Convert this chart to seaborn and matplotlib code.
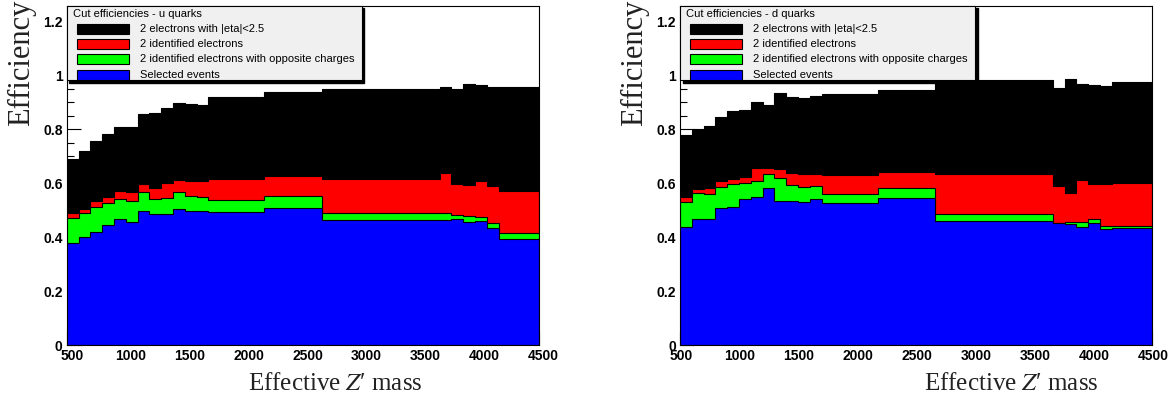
import numpy as np
import seaborn as sns
import matplotlib.pyplot as plt
import matplotlib.transforms as mtransforms
from matplotlib.patches import Rectangle

# bin edges of the Z' mass histograms (GeV)
edges = [500, 600, 700, 800, 900, 1000, 1100, 1200, 1300, 1400, 1500, 1600,
         1700, 2175, 2665, 3660, 3760, 3860, 3960, 4060, 4160, 4500]

series_names = ['2 electrons with |eta|<2.5', '2 identified electrons',
                '2 identified electrons with opposite charges', 'Selected events']
series_colors = ['#000000', '#ff0000', '#00ff00', '#0000ff']

# u quarks
u_eta = [0.689, 0.721, 0.758, 0.783, 0.807, 0.810, 0.855, 0.859, 0.880, 0.896, 0.894,
         0.890, 0.918, 0.939, 0.949, 0.955, 0.948, 0.967, 0.963, 0.958, 0.958]
u_id = [0.489, 0.505, 0.534, 0.550, 0.571, 0.567, 0.597, 0.581, 0.602, 0.612, 0.607,
        0.607, 0.615, 0.628, 0.616, 0.639, 0.596, 0.594, 0.610, 0.590, 0.571]
u_charge = [0.473, 0.489, 0.513, 0.526, 0.543, 0.533, 0.569, 0.541, 0.547, 0.567, 0.554,
            0.550, 0.538, 0.553, 0.491, 0.491, 0.484, 0.479, 0.476, 0.452, 0.415]
u_sel = [0.380, 0.400, 0.421, 0.446, 0.468, 0.456, 0.499, 0.486, 0.485, 0.505, 0.499,
         0.497, 0.493, 0.507, 0.464, 0.464, 0.469, 0.458, 0.460, 0.436, 0.394]

# d quarks
d_eta = [0.779, 0.800, 0.813, 0.844, 0.869, 0.871, 0.901, 0.889, 0.936, 0.918, 0.916,
         0.924, 0.931, 0.944, 0.983, 0.952, 0.986, 0.968, 0.964, 0.960, 0.976]
d_id = [0.548, 0.578, 0.581, 0.608, 0.617, 0.624, 0.656, 0.656, 0.653, 0.637, 0.633,
        0.633, 0.631, 0.641, 0.634, 0.590, 0.565, 0.612, 0.597, 0.596, 0.600]
d_charge = [0.532, 0.563, 0.559, 0.587, 0.596, 0.600, 0.610, 0.636, 0.621, 0.594, 0.585,
            0.591, 0.559, 0.581, 0.485, 0.454, 0.458, 0.458, 0.469, 0.443, 0.443]
d_sel = [0.439, 0.467, 0.468, 0.507, 0.511, 0.541, 0.550, 0.581, 0.536, 0.534, 0.532,
         0.541, 0.526, 0.544, 0.462, 0.454, 0.449, 0.439, 0.452, 0.431, 0.433]

panels = [('Cut efficiencies - u quarks', [u_eta, u_id, u_charge, u_sel]),
          ('Cut efficiencies - d quarks', [d_eta, d_id, d_charge, d_sel])]

W, H = 1171, 397
plt.rcParams['font.family'] = ['Liberation Sans', 'DejaVu Sans']
plt.rcParams['mathtext.fontset'] = 'stix'

fig = plt.figure(figsize=(W / 100, H / 100), dpi=100)
centers = [(a + b) / 2 for a, b in zip(edges[:-1], edges[1:])]


def fx(px):
    return px / W


def fy(py):
    return 1 - py / H


ax_left_px = [66.7, 680]
ax_width_px = 472
ax_top_px, ax_bot_px = 6, 345.3
xlabel_right_px = [422, 1098]
label_shift_px = [5, 1]

for i, (title, vals) in enumerate(panels):
    x0 = ax_left_px[i]
    ax = fig.add_axes([fx(x0), fy(ax_bot_px), ax_width_px / W, (ax_bot_px - ax_top_px) / H])
    for name, v, c in zip(series_names, vals, series_colors):
        sns.histplot(x=centers, weights=v, bins=edges, element='step', fill=True,
                     color=c, alpha=1, edgecolor='black', linewidth=0.8, ax=ax)
    ax.set_xlim(500, 4500)
    ax.set_ylim(0, 1.2565)
    ax.set_xlabel('')
    ax.set_ylabel('')
    ax.set_xticks(np.arange(500, 4501, 500))
    ax.set_yticks([0, 0.2, 0.4, 0.6, 0.8, 1, 1.2])
    ax.set_yticklabels(['0', '0.2', '0.4', '0.6', '0.8', '1', '1.2'])
    ax.set_yticks(np.arange(0, 1.25, 0.05), minor=True)
    ax.set_axisbelow(True)
    ax.tick_params(direction='in', which='major', length=10, width=0.8, labelsize=10, pad=3)
    ax.tick_params(direction='in', which='minor', length=5, width=0.8)
    for lab in ax.get_xticklabels() + ax.get_yticklabels():
        lab.set_fontweight('bold')
    shift = mtransforms.ScaledTranslation(label_shift_px[i] / 100, 0, fig.dpi_scale_trans)
    for lab in ax.get_xticklabels():
        lab.set_transform(lab.get_transform() + shift)
    for sp in ax.spines.values():
        sp.set_linewidth(0.8)

    # ROOT style legend box with solid shadow
    lx0, ly0, lw, lh = x0, ax_top_px, 295, 74
    fig.patches.append(Rectangle((fx(lx0 + 2.5), fy(ly0 + lh + 2.5)), lw / W, lh / H,
                                 transform=fig.transFigure, facecolor='black',
                                 edgecolor='black', zorder=5))
    fig.patches.append(Rectangle((fx(lx0), fy(ly0 + lh)), lw / W, lh / H,
                                 transform=fig.transFigure, facecolor='#f0f0f0',
                                 edgecolor='black', linewidth=0.8, zorder=6))
    fig.text(fx(lx0 + 6), fy(14), title, fontsize=8, va='center', ha='left', zorder=7)
    for k, (name, c) in enumerate(zip(series_names, series_colors)):
        yc = 28.7 + k * 15.3
        fig.patches.append(Rectangle((fx(lx0 + 10), fy(yc + 5)), 52 / W, 10 / H,
                                     transform=fig.transFigure, facecolor=c,
                                     edgecolor='black', linewidth=0.8, zorder=7))
        fig.text(fx(lx0 + 73), fy(yc), name, fontsize=8, va='center', ha='left', zorder=7)

    fig.text(fx(x0 - 45), fy(0), 'Efficiency', rotation=90, ha='center', va='top',
             fontsize=22, family='Liberation Serif', color='#222222')
    fig.text(fx(xlabel_right_px[i]), fy(390), 'Effective $Z$\u2032 mass', ha='right',
             va='baseline', fontsize=18, family='Liberation Serif', color='#222222')

fig.savefig('out.png', dpi=100)
